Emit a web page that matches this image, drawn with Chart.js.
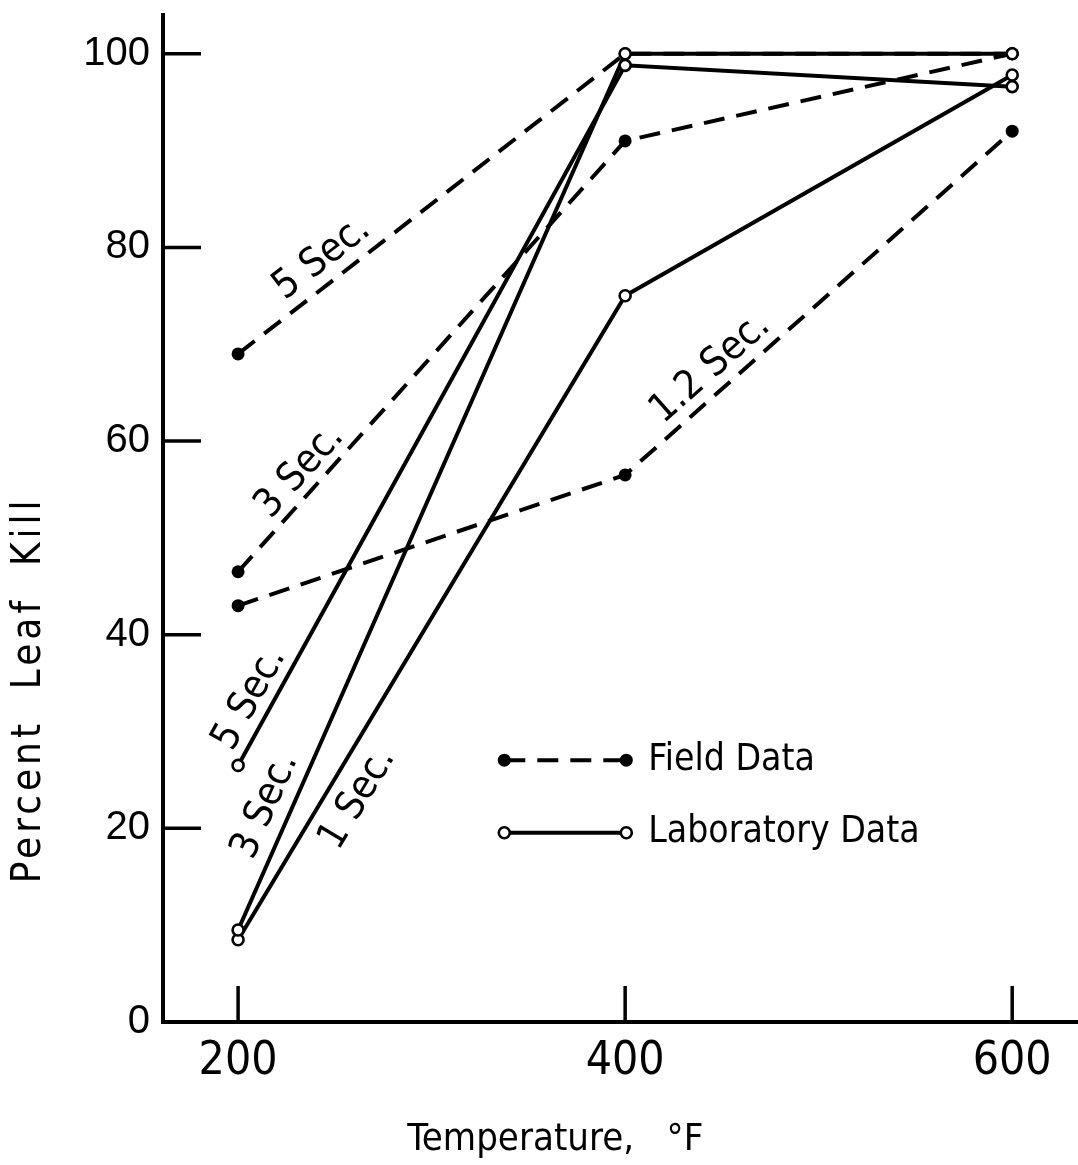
<!DOCTYPE html>
<html>
<head>
<meta charset="utf-8">
<script src="https://cdn.jsdelivr.net/npm/chart.js@4.4.1/dist/chart.umd.min.js"></script>
<style>
html,body{margin:0;padding:0;background:#fff;}
#wrap{width:1078px;height:1165px;position:relative;}
</style>
</head>
<body>
<div id="wrap"><canvas id="c" width="1078" height="1165"></canvas></div>
<script>
// ---- data ----
const temperatures = [200, 400, 600];
const field5Sec  = [69, 100, 100];
const field3Sec  = [46.5, 91, 100];
const field12Sec = [43, 56.5, 92];
const lab5Sec = [26.5, 98.8, 96.6];
const lab3Sec = [9.5, 100, 100];
const lab1Sec = [8.5, 75, 97.8];
const xTickValues = [200, 400, 600];
const yTickValues = [0, 20, 40, 60, 80, 100];
const xTitle = 'Temperature,   °F            ';
const yTitle = '         Percent  Leaf  Kill';
const legendLabels = ['Field Data', 'Laboratory Data'];
const lineLabels = ['5 Sec.', '3 Sec.', '1.2 Sec.', '5 Sec.', '3 Sec.', '1 Sec.'];

const INK = '#000';
const LETTER = '"DejaVu Sans Condensed", "Liberation Sans Narrow", "DejaVu Sans", sans-serif';
const pts = arr => temperatures.map((t, i) => ({x: t, y: arr[i]}));

function labSet(arr) {
  return {data: pts(arr), borderColor: INK, borderWidth: 4, tension: 0,
    pointRadius: 5.5, pointBorderWidth: 2.6, pointBackgroundColor: '#fff', pointBorderColor: INK, clip: false};
}
function fieldSet(arr) {
  return {data: pts(arr), borderColor: INK, borderWidth: 4, borderDash: [21, 12], tension: 0,
    pointRadius: 6.5, pointBorderWidth: 0, pointBackgroundColor: INK, pointBorderColor: INK, clip: false};
}

// datasets: lab first so their open circles sit on top
const datasets = [labSet(lab5Sec), labSet(lab3Sec), labSet(lab1Sec),
                  fieldSet(field5Sec), fieldSet(field3Sec), fieldSet(field12Sec)];

// label placement: dataset, segment, fraction along segment, perpendicular offset
const labelPlacement = [
  {ds: 3, seg: 0, t: 0.255, off: 24, text: lineLabels[0]},
  {ds: 4, seg: 0, t: 0.20, off: 21, text: lineLabels[1]},
  {ds: 5, seg: 1, t: 0.26, off: 23, text: lineLabels[2]},
  {ds: 0, seg: 0, t: 0.08, off: 22, text: lineLabels[3]},
  {ds: 1, seg: 0, t: 0.13, off: 25, text: lineLabels[4]},
  {ds: 2, seg: 0, t: 0.243, off: -30, text: lineLabels[5]}
];

const spacingPlugin = {
  id: 'titleSpacing',
  beforeDraw(chart) {
    const s = chart.scales.y;
    if (s && !s._spacedTitle) {
      const orig = s.drawTitle.bind(s);
      s.drawTitle = function () {
        const ctx = chart.ctx;
        const prev = ctx.letterSpacing;
        ctx.letterSpacing = '4px';
        orig();
        ctx.letterSpacing = prev || '0px';
      };
      s._spacedTitle = true;
    }
  }
};

const decorPlugin = {
  id: 'decor',
  afterDatasetsDraw(chart) {
    const ctx = chart.ctx, xs = chart.scales.x, ys = chart.scales.y;
    const area = chart.chartArea;
    ctx.save();
    // inward tick marks
    ctx.strokeStyle = INK; ctx.lineWidth = 3.5; ctx.setLineDash([]);
    yTickValues.forEach(v => {
      const py = ys.getPixelForValue(v);
      ctx.beginPath(); ctx.moveTo(area.left, py); ctx.lineTo(area.left + 38, py); ctx.stroke();
    });
    xTickValues.forEach(v => {
      const px = xs.getPixelForValue(v);
      ctx.beginPath(); ctx.moveTo(px, area.bottom); ctx.lineTo(px, area.bottom - 36); ctx.stroke();
    });
    // curve labels
    ctx.fillStyle = INK;
    ctx.font = '40px ' + LETTER;
    ctx.textAlign = 'center'; ctx.textBaseline = 'middle';
    labelPlacement.forEach(l => {
      const d = chart.data.datasets[l.ds].data;
      const p0 = {x: xs.getPixelForValue(d[l.seg].x), y: ys.getPixelForValue(d[l.seg].y)};
      const p1 = {x: xs.getPixelForValue(d[l.seg + 1].x), y: ys.getPixelForValue(d[l.seg + 1].y)};
      const a = Math.atan2(p1.y - p0.y, p1.x - p0.x);
      const cx = p0.x + (p1.x - p0.x) * l.t + Math.sin(a) * l.off;
      const cy = p0.y + (p1.y - p0.y) * l.t - Math.cos(a) * l.off;
      ctx.save(); ctx.translate(cx, cy); ctx.rotate(a); ctx.fillText(l.text, 0, 0); ctx.restore();
    });
    // legend
    const lx0 = area.left + 0.373 * (area.right - area.left);
    const lx1 = lx0 + 122;
    const rows = [area.top + 0.740 * (area.bottom - area.top), area.top + 0.812 * (area.bottom - area.top)];
    ctx.lineWidth = 4;
    ctx.setLineDash([21, 12]);
    ctx.beginPath(); ctx.moveTo(lx0, rows[0]); ctx.lineTo(lx1, rows[0]); ctx.stroke();
    ctx.setLineDash([]);
    [lx0, lx1].forEach(x => { ctx.beginPath(); ctx.arc(x, rows[0], 6.5, 0, 2 * Math.PI); ctx.fill(); });
    ctx.beginPath(); ctx.moveTo(lx0, rows[1]); ctx.lineTo(lx1, rows[1]); ctx.stroke();
    ctx.lineWidth = 2.6;
    [lx0, lx1].forEach(x => { ctx.beginPath(); ctx.arc(x, rows[1], 5.5, 0, 2 * Math.PI);
      ctx.fillStyle = '#fff'; ctx.fill(); ctx.strokeStyle = INK; ctx.stroke(); });
    ctx.fillStyle = INK;
    ctx.font = '37px ' + LETTER;
    ctx.textAlign = 'left'; ctx.textBaseline = 'middle';
    ctx.fillText(legendLabels[0], lx1 + 22, rows[0]);
    ctx.fillText(legendLabels[1], lx1 + 22, rows[1]);
    ctx.restore();
  }
};

new Chart(document.getElementById('c'), {
  type: 'line',
  data: {datasets},
  options: {
    responsive: false,
    animation: false,
    devicePixelRatio: 1,
    layout: {autoPadding: false, padding: {top: 15, right: 0, left: 0, bottom: 0}},
    plugins: {legend: {display: false}, tooltip: {enabled: false}},
    scales: {
      x: {
        type: 'linear', min: 161.2, max: 634,
        afterBuildTicks: s => { s.ticks = xTickValues.map(v => ({value: v})); },
        afterFit: s => { s.height = 143; s.paddingLeft = 0; s.paddingRight = 0; },
        grid: {display: false, drawTicks: false},
        border: {display: true, color: INK, width: 4},
        ticks: {color: INK, padding: 12, font: {family: '"Liberation Sans Narrow", "DejaVu Sans Condensed", sans-serif', size: 46}},
        title: {display: true, text: xTitle, color: INK, padding: {top: 0, bottom: 2},
          font: {family: LETTER, size: 38}}
      },
      y: {
        type: 'linear', min: 0, max: 104,
        afterBuildTicks: s => { s.ticks = yTickValues.map(v => ({value: v})); },
        afterFit: s => { s.width = 163; s.paddingTop = 0; s.paddingBottom = 0; },
        grid: {display: false, drawTicks: false},
        border: {display: true, color: INK, width: 4},
        ticks: {color: INK, padding: 13, font: {family: '"Liberation Sans", Arial, sans-serif', size: 40}},
        title: {display: true, text: yTitle, color: INK, align: 'start', padding: {top: 6, bottom: 0},
          font: {family: LETTER, size: 40}}
      }
    }
  },
  plugins: [spacingPlugin, decorPlugin]
});
</script>
</body>
</html>
